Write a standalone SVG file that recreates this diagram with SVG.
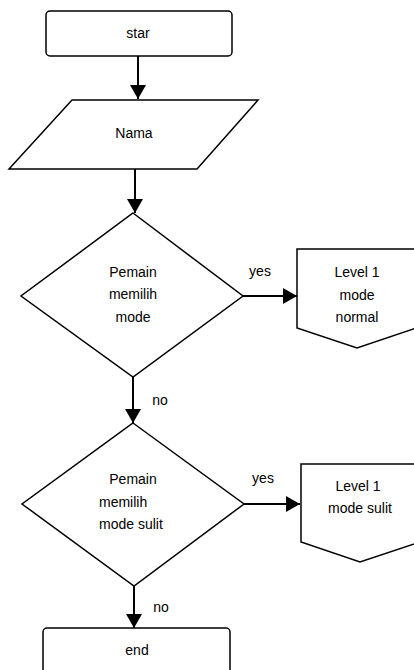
<svg xmlns="http://www.w3.org/2000/svg" width="414" height="670" viewBox="0 0 414 670">
<style>
.s{fill:#fff;stroke:#000;stroke-width:1.5;stroke-linejoin:miter}
.c{stroke:#000;stroke-width:2;fill:none}
text{font-family:"Liberation Sans",Arial,sans-serif;font-size:14px;fill:#000}
.m{text-anchor:middle}
</style>
<defs>
<marker id="ah" markerUnits="userSpaceOnUse" markerWidth="16" markerHeight="16" viewBox="0 0 14 16" refX="14" refY="8" orient="auto">
<path d="M0,0 L14,8 L0,16 Z" fill="#000"/>
</marker>
</defs>
<rect width="414" height="670" fill="#fff"/>
<g id="connectors">
<line class="c" x1="138" y1="56" x2="138" y2="99" marker-end="url(#ah)"/>
<line class="c" x1="135" y1="169" x2="135" y2="213" marker-end="url(#ah)"/>
<line class="c" x1="133" y1="377" x2="133" y2="423" marker-end="url(#ah)"/>
<line class="c" x1="134" y1="586" x2="134" y2="628" marker-end="url(#ah)"/>
<line class="c" x1="243" y1="296" x2="297" y2="296" marker-end="url(#ah)"/>
<line class="c" x1="244" y1="504" x2="300" y2="504" marker-end="url(#ah)"/>
<text class="m" x="260" y="276">yes</text>
<text class="m" x="160" y="405">no</text>
<text class="m" x="263" y="483">yes</text>
<text class="m" x="161" y="612">no</text>
</g>
<g id="start">
<rect class="s" x="46" y="11" width="186" height="45" rx="4"/>
<text class="m" x="138" y="38">star</text>
</g>
<g id="nama">
<polygon class="s" points="72,100 258,100 197,169 9,169"/>
<text class="m" x="134" y="138">Nama</text>
</g>
<g id="decision1">
<polygon class="s" points="133,213 243,296 133,377 21,296"/>
<text class="m" x="133" y="277">Pemain</text>
<text class="m" x="133" y="299">memilih</text>
<text class="m" x="133" y="322">mode</text>
</g>
<g id="level1normal">
<polygon class="s" points="297,249 416,249 416,328 357,348 297,328"/>
<text class="m" x="357" y="277">Level 1</text>
<text class="m" x="357" y="300">mode</text>
<text class="m" x="357" y="322">normal</text>
</g>
<g id="decision2">
<polygon class="s" points="133,423 244,504 134,586 22,504"/>
<text class="m" x="133" y="484">Pemain</text>
<text x="99" y="507">memilih</text>
<text x="99" y="529">mode sulit</text>
</g>
<g id="level1sulit">
<polygon class="s" points="301,464 420,464 420,542 360,562 301,542"/>
<text class="m" x="358" y="491">Level 1</text>
<text class="m" x="360" y="513">mode sulit</text>
</g>
<g id="end">
<rect class="s" x="43" y="628" width="187" height="50" rx="4"/>
<text class="m" x="137" y="655">end</text>
</g>
</svg>
